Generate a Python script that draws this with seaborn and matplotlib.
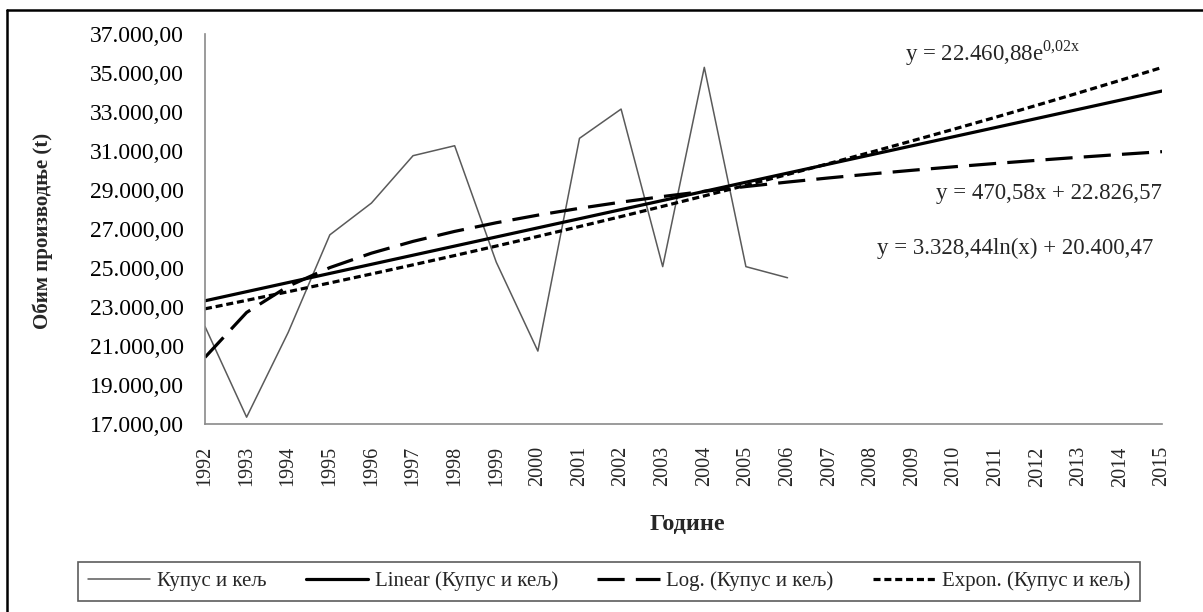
import numpy as np
import pandas as pd
import matplotlib
matplotlib.use("Agg")
import matplotlib.pyplot as plt
import seaborn as sns
from matplotlib.lines import Line2D
from matplotlib.ticker import FuncFormatter

# Podaci očitani sa grafika (t)
godine = list(range(1992, 2016))
godine_podaci = list(range(1992, 2007))
kupus_kelj = [22000, 17350, 21700, 26700, 28330, 30760, 31270, 25300,
              20740, 31650, 33150, 25070, 35290, 25070, 24500]

naziv = "Купус и кељ"
jednacina_exp = "y = 22.460,88e$^{\\mathregular{0{,}02x}}$"
jednacina_lin = "y = 470,58x + 22.826,57"
jednacina_log = "y = 3.328,44ln(x) + 20.400,47"


# Trend linije kao u Excelu (x = 1..n, prognoza do 2015)
def trendovi(y, n_ukupno):
    x = np.arange(1, len(y) + 1)
    xs = np.arange(1, n_ukupno + 1)
    b, a = np.polyfit(x, y, 1)
    lin = a + b * xs
    bl, al = np.polyfit(np.log(x), y, 1)
    log = al + bl * np.log(xs)
    be, ae = np.polyfit(x, np.log(y), 1)
    exp = np.exp(ae) * np.exp(be * xs)
    return lin, log, exp


def format_hiljade(v, pos):
    s = f"{v:,.2f}"
    return s.replace(",", "X").replace(".", ",").replace("X", ".")


def main():
    sns.set_theme(style="white")
    plt.rcParams["font.family"] = ["Liberation Serif", "DejaVu Serif"]

    lin, log, exp = trendovi(np.array(kupus_kelj, dtype=float), len(godine))
    df = pd.DataFrame({"Godina": godine_podaci, "Vrednost": kupus_kelj})
    dft = pd.DataFrame({"Godina": godine, "lin": lin, "log": log, "exp": exp})

    fig = plt.figure(figsize=(12.03, 6.12), dpi=100)
    ax = fig.add_axes([205 / 1203, 1 - 424 / 612, (1162 - 205) / 1203, (424 - 34) / 612])

    sns.lineplot(data=df, x="Godina", y="Vrednost", ax=ax, color="#5a5a5a",
                 linewidth=1.1, label=naziv)
    sns.lineplot(data=dft, x="Godina", y="lin", ax=ax, color="black",
                 linewidth=2.3, label=f"Linear ({naziv})")
    sns.lineplot(data=dft, x="Godina", y="log", ax=ax, color="black",
                 linewidth=2.3, label=f"Log. ({naziv})")
    ax.lines[-1].set_dashes([8.5, 3.5])
    sns.lineplot(data=dft, x="Godina", y="exp", ax=ax, color="black",
                 linewidth=2.3, label=f"Expon. ({naziv})")
    ax.lines[-1].set_dashes([2.2, 1.2])

    ax.set_xlim(1992, 2015)
    ax.set_ylim(17000, 37000)
    ax.set_yticks(range(17000, 37001, 2000))
    ax.yaxis.set_major_formatter(FuncFormatter(format_hiljade))
    ax.set_xticks(godine)
    ax.set_xticklabels([str(g) for g in godine], rotation=90)
    ax.tick_params(axis="y", length=0, labelsize=17, pad=15, colors="black")
    ax.tick_params(axis="x", length=6, width=1, color="#8a8a8a", direction="out",
                   labelsize=14.5, pad=10)
    ax.grid(False)
    for s in ["top", "right"]:
        ax.spines[s].set_visible(False)
    for s in ["left", "bottom"]:
        ax.spines[s].set_color("#8a8a8a")
        ax.spines[s].set_linewidth(1.2)

    ax.set_xlabel("")
    ax.set_ylabel("")
    fig.text(43 / 1203, 1 - 231 / 612, "Обим производње (t)", rotation=90,
             ha="center", va="center", fontsize=15, fontweight="bold")
    fig.text(687 / 1203, 1 - 525 / 612, "Годинe", ha="center", va="center",
             fontsize=17.5, fontweight="bold")

    fig.text(905 / 1203, 1 - 53 / 612, jednacina_exp, ha="left", va="center", fontsize=16.5)
    fig.text(1162 / 1203, 1 - 193 / 612, jednacina_lin, ha="right", va="center", fontsize=16.5)
    fig.text(1153 / 1203, 1 - 248 / 612, jednacina_log, ha="right", va="center", fontsize=16.5)

    handles, labels = ax.get_legend_handles_labels()
    ax.legend_.remove()
    leg = fig.legend(handles, labels, loc="lower left", ncol=4, mode="expand",
                     bbox_to_anchor=(68 / 1203, 1 / 612, (1150 - 68) / 1203, 48 / 612),
                     fontsize=15, handlelength=3.0, handletextpad=0.3,
                     columnspacing=0.5, fancybox=False, borderpad=0.45)
    leg.get_frame().set_edgecolor("#333333")
    leg.get_frame().set_linewidth(1.2)

    # okvir oko slike (levo i gore)
    x0, y1 = 7 / 1203, 1 - 10 / 612
    fig.add_artist(Line2D([x0, x0], [0, y1], transform=fig.transFigure,
                          color="black", linewidth=1.8))
    fig.add_artist(Line2D([x0, 1], [y1, y1], transform=fig.transFigure,
                          color="black", linewidth=1.8))

    fig.savefig("out.png", dpi=100)


if __name__ == "__main__":
    main()
